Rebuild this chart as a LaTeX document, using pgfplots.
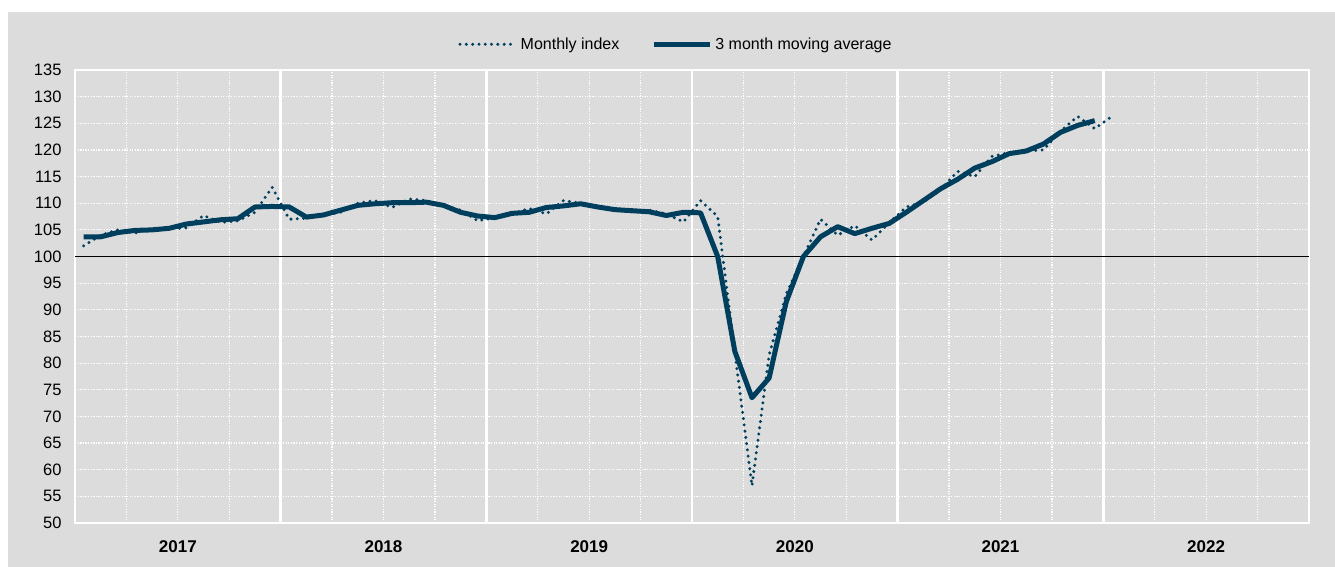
\documentclass[border=0pt]{standalone}
\usepackage{fontspec}
\setmainfont{Liberation Sans}
\usepackage{pgfplots}
\usepackage{pgfplotstable}
\pgfplotsset{compat=1.18}
\definecolor{bg}{RGB}{220,220,220}
\definecolor{navy}{RGB}{0,62,94}

\pgfplotstableread{
x y
0.5 102.0
1.5 104.0
2.5 105.0
3.5 104.4
4.5 105.3
5.5 105.2
6.5 105.4
7.5 107.7
8.5 106.4
9.5 106.7
10.5 108.3
11.5 113.0
12.5 107.0
13.5 107.2
14.5 107.8
15.5 108.3
16.5 110.0
17.5 110.5
18.5 109.2
19.5 110.8
20.5 110.5
21.5 109.5
22.5 108.7
23.5 106.7
24.5 107.3
25.5 108.0
26.5 109.0
27.5 108.0
28.5 110.5
29.5 110.0
30.5 109.3
31.5 108.7
32.5 108.4
33.5 108.7
34.5 108.0
35.5 106.5
36.5 110.5
37.5 107.5
38.5 82.0
39.5 57.0
40.5 81.5
41.5 93.0
42.5 100.0
43.5 107.0
44.5 104.0
45.5 105.8
46.5 103.1
47.5 106.3
48.5 109.3
49.5 110.2
50.5 112.5
51.5 116.0
52.5 115.0
53.5 118.8
54.5 119.5
55.5 119.8
56.5 120.0
57.5 123.5
58.5 126.3
59.5 124.0
60.5 126.3
}\monthly

\pgfplotstableread{
x y
0.5 103.7
1.5 103.7
2.5 104.5
3.5 104.9
4.5 105.0
5.5 105.3
6.5 106.1
7.5 106.5
8.5 106.9
9.5 107.1
10.5 109.3
11.5 109.4
12.5 109.3
13.5 107.4
14.5 107.8
15.5 108.7
16.5 109.6
17.5 109.9
18.5 110.1
19.5 110.1
20.5 110.2
21.5 109.6
22.5 108.3
23.5 107.6
24.5 107.3
25.5 108.1
26.5 108.3
27.5 109.2
28.5 109.5
29.5 109.9
30.5 109.3
31.5 108.8
32.5 108.6
33.5 108.4
34.5 107.7
35.5 108.3
36.5 108.2
37.5 100.0
38.5 82.2
39.5 73.5
40.5 77.2
41.5 91.5
42.5 100.0
43.5 103.7
44.5 105.6
45.5 104.3
46.5 105.3
47.5 106.2
48.5 108.3
49.5 110.5
50.5 112.7
51.5 114.5
52.5 116.6
53.5 117.8
54.5 119.3
55.5 119.8
56.5 121.1
57.5 123.3
58.5 124.6
59.5 125.5
}\mavg

\begin{document}
\begin{tikzpicture}
\fill[white] (-75bp,-44bp) rectangle (1260bp,523bp);
\fill[bg] (-67bp,-44bp) rectangle (1260bp,511bp);
\begin{axis}[
  scale only axis, width=1234bp, height=453bp,
  xmin=0, xmax=72, ymin=50, ymax=135,
  axis line style={white, line width=2.5bp},
  ytick={50,55,...,135},
  xtick={6,18,30,42,54,66},
  xticklabels={2017,2018,2019,2020,2021,2022},
  minor xtick={3,9,15,21,27,33,39,45,51,57,63,69},
  extra x ticks={12,24,36,48,60},
  extra x tick labels={},
  extra x tick style={grid=major, major grid style={white, line width=2.5bp, solid}},
  grid=both,
  major grid style={white, line width=1.2bp, dash pattern=on 1.3bp off 1.3bp},
  minor grid style={white, line width=1.2bp, dash pattern=on 1.3bp off 1.3bp},
  major tick length=0pt, minor tick length=0pt,
  tick label style={font=\fontsize{16.5bp}{19bp}\selectfont, text=black},
  xticklabel style={font=\fontsize{17bp}{20bp}\selectfont\bfseries, yshift=-14bp},
  yticklabel style={xshift=-10bp},
  /pgf/number format/assume math mode=true,
  /pgf/number format/1000 sep={},
  legend style={at={(0.487,1)}, anchor=south, yshift=15bp, draw=none, fill=none,
    legend columns=2, font=\fontsize{16bp}{19bp}\selectfont,
    /tikz/every even column/.append style={column sep=30bp}},
  legend image code/.code={\draw[#1] (0bp,0bp) -- (56bp,0bp); \path (57bp,0bp);},
]
\addplot[black, line width=1.4bp, forget plot] coordinates {(0,100) (72,100)};
\addplot[navy, line width=3.3bp, line cap=round, dash pattern=on 0bp off 6.3bp] table[x=x,y=y] {\monthly};
\addlegendentry{Monthly index}
\addplot[navy, line width=5bp, line join=round] table[x=x,y=y] {\mavg};
\addlegendentry{3 month moving average}
\end{axis}
\end{tikzpicture}
\end{document}
